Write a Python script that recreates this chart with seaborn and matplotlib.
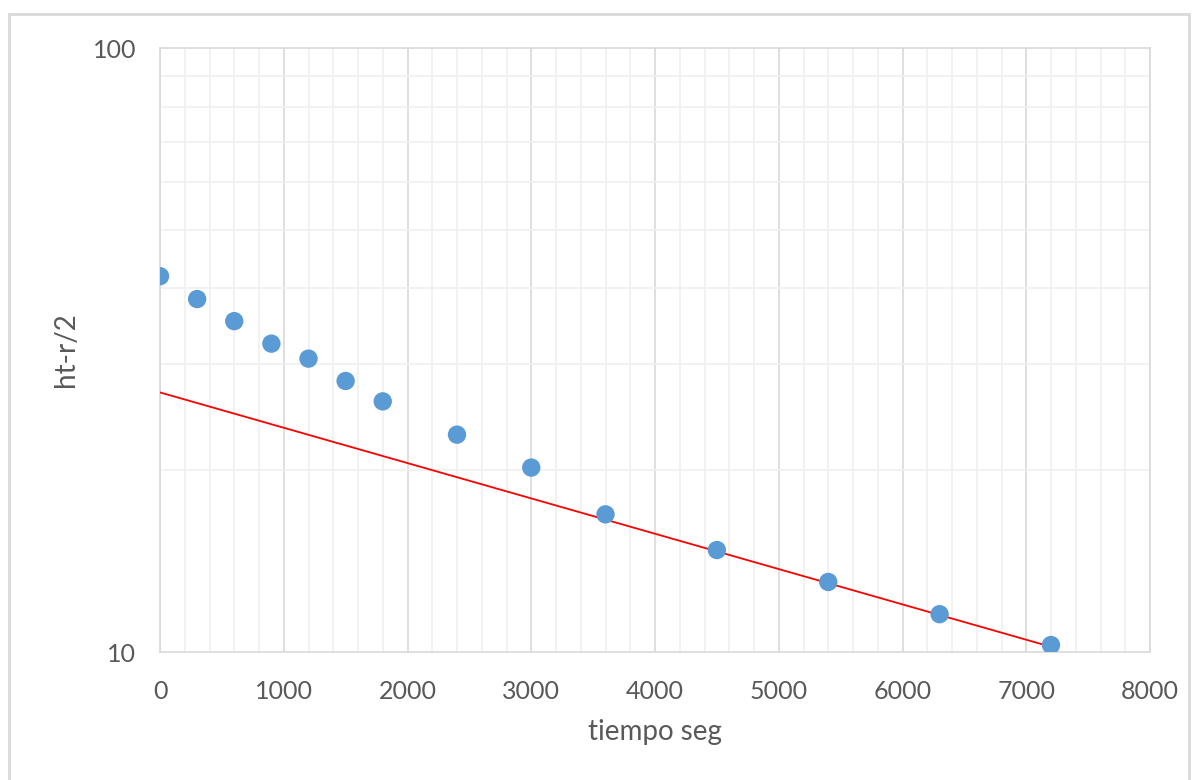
import pandas as pd
import seaborn as sns
import matplotlib.pyplot as plt
from matplotlib.ticker import MultipleLocator, FixedLocator, NullFormatter
from matplotlib.patches import Rectangle

# data
tiempo = [0, 300, 600, 900, 1200, 1500, 1800, 2400, 3000, 3600, 4500, 5400, 6300, 7200]
ht = [41.9, 38.4, 35.3, 32.4, 30.6, 28.1, 26.0, 22.9, 20.2, 16.9, 14.75, 13.06, 11.55, 10.27]

# exponential trend line end points (straight on a log axis)
trend_x = [0, 7200]
trend_y = [26.9, 10.2]

df = pd.DataFrame({'tiempo': tiempo, 'ht': ht})
trend_df = pd.DataFrame({'tiempo': trend_x, 'ht': trend_y})

sns.set_style('white')
plt.rcParams['font.family'] = ['Lato', 'DejaVu Sans']

text_color = '#595959'
grid_major = '#D9D9D9'
grid_minor = '#F0F0F0'

fig = plt.figure(figsize=(11.98, 7.8), dpi=100)
ax = fig.add_axes([160 / 1198, 128 / 780, 990 / 1198, 604 / 780])

# outer chart frame
fig.patches.append(Rectangle((9 / 1198, -0.05), 1180 / 1198, (766 / 780) + 0.05,
                             transform=fig.transFigure, fill=False,
                             edgecolor='#D9D9D9', linewidth=2))

sns.lineplot(data=trend_df, x='tiempo', y='ht', color='#FF0000', linewidth=1.3, ax=ax, zorder=3)
sns.scatterplot(data=df, x='tiempo', y='ht', color='#5B9BD5', s=175, edgecolor='none', ax=ax, zorder=4)

ax.set_yscale('log')
ax.set_xlim(0, 8000)
ax.set_ylim(10, 100)

ax.xaxis.set_major_locator(MultipleLocator(1000))
ax.xaxis.set_minor_locator(MultipleLocator(200))
ax.yaxis.set_major_locator(FixedLocator([10, 100]))
ax.yaxis.set_major_formatter(plt.FuncFormatter(lambda v, p: f'{v:g}'))
ax.yaxis.set_minor_locator(FixedLocator([20, 30, 40, 50, 60, 70, 80, 90]))
ax.yaxis.set_minor_formatter(NullFormatter())

ax.grid(which='major', axis='x', color=grid_major, linewidth=1.2, zorder=0)
ax.grid(which='minor', axis='both', color=grid_minor, linewidth=1.2, zorder=0)
ax.set_axisbelow(True)

for s in ax.spines.values():
    s.set_color(grid_major)
    s.set_linewidth(1.2)

ax.tick_params(which='both', length=0)
ax.tick_params(axis='x', pad=20, labelsize=18, labelcolor=text_color)
ax.tick_params(axis='y', pad=17, labelsize=18, labelcolor=text_color)

ax.set_xlabel('tiempo seg', fontsize=20, color=text_color, labelpad=12)
ax.set_ylabel('ht-r/2', fontsize=20, color=text_color, labelpad=10)

fig.savefig('out.png', dpi=100)
